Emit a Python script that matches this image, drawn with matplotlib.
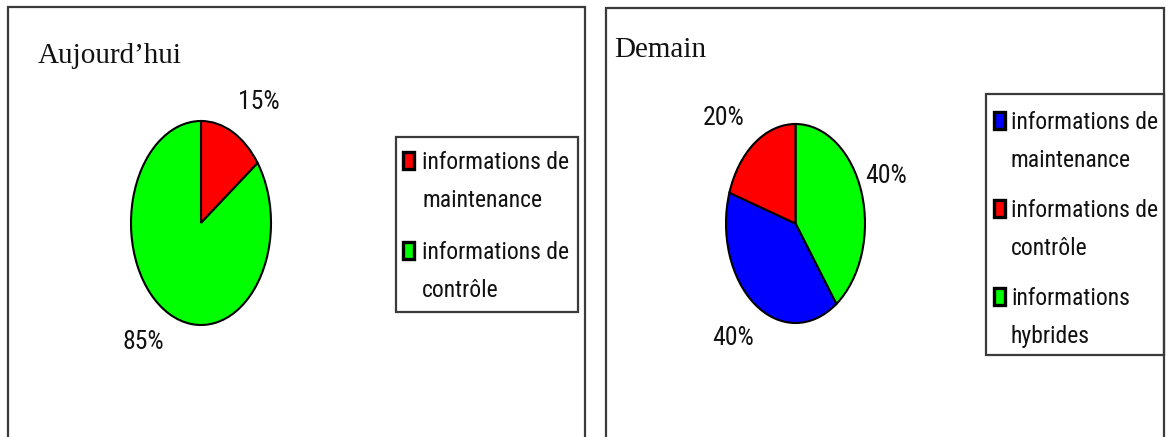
import matplotlib
matplotlib.use("Agg")
import matplotlib.pyplot as plt
from matplotlib.patches import Rectangle
from matplotlib import font_manager as fm

W, H = 1166, 437

# data
today_labels = ["informations de\nmaintenance", "informations de\ncontrôle"]
today_values = [15, 85]
today_colors = ["#ff0000", "#00ff00"]

tomorrow_labels = ["informations de\nmaintenance", "informations de\ncontrôle", "informations\nhybrides"]
tomorrow_values = [40, 20, 40]
tomorrow_colors = ["#0000ff", "#ff0000", "#00ff00"]
# order the wedges are drawn in (clockwise from the top)
tomorrow_order = [2, 0, 1]

# label positions in pie units (x, y), same order as the values
today_pct_pos = [(0.82, 1.19), (-0.82, -1.17)]
tomorrow_pct_pos = [(-0.90, -1.15), (-1.04, 1.06), (1.30, 0.48)]

# pick a narrow sans if there is one, the chart uses Arial Narrow
names = {f.name for f in fm.fontManager.ttflist}
narrow = None
for n in ["Liberation Sans Narrow", "Arial Narrow", "Roboto Condensed",
          "Open Sans Condensed", "DejaVu Sans Condensed"]:
    if n in names:
        narrow = n
        break
if narrow:
    sans = [narrow, "DejaVu Sans"]
    fs, fs_pct = 17, 18.5
else:
    sans = ["Liberation Sans", "DejaVu Sans"]
    fs, fs_pct = 15.5, 15.5
serif = ["Liberation Serif", "DejaVu Serif"]
txt_color = "#111111"


def fx(x):
    return x / W


def fy(y):
    return 1 - y / H


def frame(fig, x0, y0, x1, y1):
    fig.add_artist(Rectangle((fx(x0), fy(y1)), fx(x1) - fx(x0), fy(y0) - fy(y1),
                             transform=fig.transFigure, fill=False,
                             edgecolor="#3a3a3a", linewidth=1.6))


def pie_panel(fig, box, values, colors, pct_pos):
    x0, y0, x1, y1 = box
    ax = fig.add_axes([fx(x0), fy(y1), (x1 - x0) / W, (y1 - y0) / H])
    ax.pie(values, colors=colors, startangle=90, counterclock=False,
           wedgeprops=dict(edgecolor="black", linewidth=1.5, clip_on=False))
    ax.set_aspect("auto")
    ax.set_xlim(-1, 1)
    ax.set_ylim(-1, 1)
    ax.axis("off")
    for v, (px, py) in zip(values, pct_pos):
        ax.text(px, py, "%d%%" % v, ha="center", va="center", fontsize=fs_pct,
                family=sans, color=txt_color, clip_on=False)
    return ax


def legend_box(fig, box, labels, colors, first_base, step, mk_x, txt_x, line_step=38):
    x0, y0, x1, y1 = box
    frame(fig, x0, y0, x1, y1)
    for i, (lab, col) in enumerate(zip(labels, colors)):
        base = first_base + i * step
        fig.add_artist(Rectangle((fx(mk_x), fy(base)), 11 / W, 17 / H,
                                 transform=fig.transFigure, facecolor=col,
                                 edgecolor="black", linewidth=2.4))
        for k, line in enumerate(lab.split("\n")):
            fig.text(fx(txt_x), fy(base + k * line_step), line, ha="left",
                     va="baseline", fontsize=fs, family=sans, color=txt_color)


fig = plt.figure(figsize=(W / 100, H / 100), dpi=100)

# left panel: today
frame(fig, 8, 7, 585, 460)
fig.text(fx(38), fy(63), "Aujourd\u2019hui", fontsize=21, family=serif,
         color=txt_color, va="baseline")
pie_panel(fig, (131, 121, 271, 325), today_values, today_colors, today_pct_pos)
legend_box(fig, (396, 137, 578, 312), today_labels, today_colors, 169, 90, 403, 422)

# right panel: tomorrow
frame(fig, 606, 8, 1164, 460)
fig.text(fx(614), fy(57), "Demain", fontsize=21, family=serif,
         color=txt_color, va="baseline")
pie_panel(fig, (726, 124, 865, 323),
          [tomorrow_values[i] for i in tomorrow_order],
          [tomorrow_colors[i] for i in tomorrow_order],
          [tomorrow_pct_pos[i] for i in tomorrow_order])
legend_box(fig, (986, 94, 1164, 355), tomorrow_labels, tomorrow_colors, 129, 88, 994, 1011)

fig.savefig("out.png", dpi=100)
